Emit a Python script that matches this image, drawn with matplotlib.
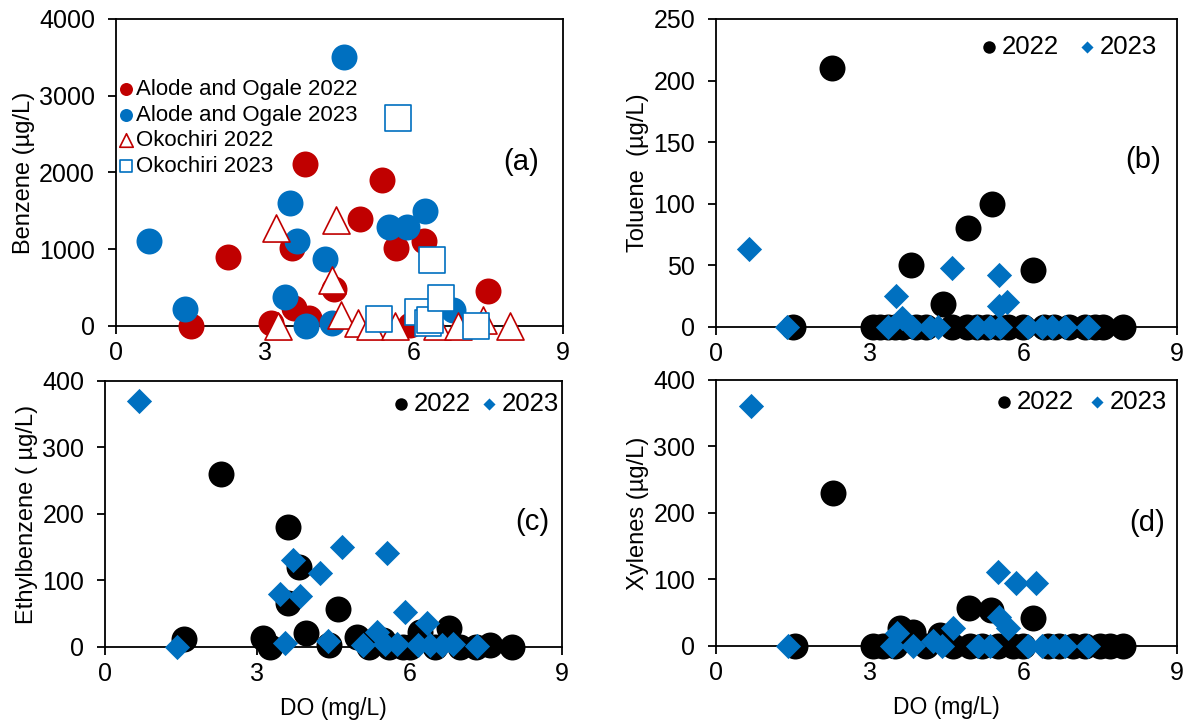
import numpy as np
import matplotlib.pyplot as plt

plt.rcParams['font.family'] = ['Liberation Sans', 'DejaVu Sans']

RED = '#C00000'
BLUE = '#0070C0'

# (a) Benzene
alode22_do = [1.51, 2.25, 3.12, 3.54, 3.58, 3.81, 3.89, 4.39, 4.91, 5.36, 5.64, 5.92, 6.20, 7.49]
alode22_bz = [0, 900, 40, 1010, 230, 2110, 100, 480, 1390, 1900, 1010, 10, 1110, 450]
alode23_do = [0.66, 1.39, 3.40, 3.50, 3.64, 3.83, 4.21, 4.35, 4.59, 5.50, 5.86, 6.22, 6.78]
alode23_bz = [1110, 220, 380, 1600, 1110, 0, 870, 40, 3500, 1290, 1290, 1500, 210]
oko22_do = [3.22, 3.26, 4.35, 4.43, 4.53, 4.87, 5.11, 5.62, 6.46, 6.89, 7.39, 7.93]
oko22_bz = [1280, 0, 600, 1380, 140, 40, 0, 0, 0, 0, 80, 0]
oko23_do = [5.29, 5.68, 6.08, 6.28, 6.32, 6.36, 6.54, 7.25]
oko23_bz = [90, 2710, 180, 40, 80, 860, 360, 0]

# (b) Toluene
tol22_do = [1.51, 2.27, 3.07, 3.20, 3.35, 3.50, 3.65, 3.81, 3.90, 4.10, 4.43, 4.60, 4.92,
            4.90, 5.10, 5.30, 5.39, 5.50, 5.70, 6.00, 6.19, 6.40, 6.60, 6.90, 7.20, 7.40, 7.56, 7.95]
tol22 = [0, 210, 0, 0, 0, 0, 0, 50, 0, 0, 19, 0, 80,
         0, 0, 0, 100, 0, 0, 0, 46, 0, 0, 0, 0, 0, 0, 0]
tol23_do = [0.64, 1.39, 3.36, 3.52, 3.64, 3.83, 4.18, 4.34, 4.61, 5.10, 5.35, 5.53, 5.53,
            5.55, 5.69, 6.09, 6.37, 6.56, 6.82, 7.27]
tol23 = [63, 0, 0, 25, 7, 0, 0, 0, 48, 0, 0, 42, 17,
         0, 20, 0, 0, 0, 0, 0]

# (c) Ethylbenzene
eb22_do = [1.56, 2.28, 3.11, 3.25, 3.60, 3.60, 3.82, 3.96, 4.41, 4.59, 4.96, 5.20, 5.47,
           5.60, 5.87, 6.00, 6.20, 6.50, 6.77, 7.00, 7.30, 7.58, 8.01]
eb22 = [12, 260, 14, 0, 181, 66, 120, 21, 3, 57, 15, 0, 10,
        0, 0, 0, 22, 0, 28, 0, 0, 3, 0]
eb23_do = [0.67, 1.42, 3.44, 3.54, 3.70, 3.84, 4.23, 4.39, 4.67, 5.08, 5.35, 5.51, 5.55,
           5.75, 5.91, 6.16, 6.34, 6.40, 6.63, 6.85, 7.32]
eb23 = [370, 0, 80, 6, 131, 76, 111, 9, 150, 3, 22, 4, 141,
        5, 52, 3, 36, 3, 3, 4, 2]

# (d) Xylenes
xy22_do = [1.54, 2.29, 3.07, 3.26, 3.50, 3.59, 3.85, 4.10, 4.38, 4.63, 4.94, 4.96, 5.20,
           5.37, 5.50, 5.80, 6.00, 6.19, 6.48, 6.70, 6.97, 7.20, 7.50, 7.70, 7.95]
xy22 = [0, 230, 0, 0, 0, 27, 21, 0, 16, 0, 57, 0, 0,
        54, 0, 0, 0, 42, 0, 0, 0, 0, 0, 0, 0]
xy23_do = [0.68, 1.41, 3.44, 3.53, 3.85, 4.24, 4.41, 4.63, 5.12, 5.35, 5.51, 5.53, 5.70,
           5.86, 6.09, 6.25, 6.37, 6.58, 6.82, 7.27]
xy23 = [361, 0, 0, 20, 0, 8, 0, 27, 0, 0, 111, 44, 27,
        95, 0, 95, 0, 0, 0, 0]

TICK_FS = 18
LABEL_FS = 17


def style_axis(ax, ymax, ystep, ylabel):
    ax.set_xlim(0, 9)
    ax.set_ylim(0, ymax)
    ax.set_xticks([0, 3, 6, 9])
    ax.set_yticks(np.arange(0, ymax + 1, ystep))
    ax.tick_params(direction='out', length=6, width=1.3, labelsize=TICK_FS)
    ax.tick_params(axis='x', pad=5)
    ax.tick_params(axis='y', pad=9)
    for sp in ax.spines.values():
        sp.set_linewidth(1.3)
    ax.set_ylabel(ylabel, fontsize=LABEL_FS, labelpad=3)


fig = plt.figure(figsize=(11.88, 7.22), dpi=100)

axA = fig.add_axes([0.0976, 0.5485, 0.3763, 0.4252])
axB = fig.add_axes([0.6027, 0.5471, 0.3880, 0.4266])
axC = fig.add_axes([0.0884, 0.1039, 0.3847, 0.3684])
axD = fig.add_axes([0.6027, 0.1053, 0.3880, 0.3684])

# Benzene panel: two sites, two years
axA.scatter(alode22_do, alode22_bz, s=350, c=RED, linewidths=0, clip_on=False, zorder=3,
            label='Alode and Ogale 2022')
axA.scatter(alode23_do, alode23_bz, s=350, c=BLUE, linewidths=0, clip_on=False, zorder=3,
            label='Alode and Ogale 2023')
axA.scatter(oko22_do, oko22_bz, s=380, marker='^', facecolors='white', edgecolors=RED,
            linewidths=1.2, clip_on=False, zorder=3, label='Okochiri 2022')
axA.scatter(oko23_do, oko23_bz, s=350, marker='s', facecolors='white', edgecolors=BLUE,
            linewidths=1.2, clip_on=False, zorder=3, label='Okochiri 2023')
style_axis(axA, 4000, 1000, 'Benzene (µg/L)')
axA.legend(loc='center left', bbox_to_anchor=(0.008, 0.645), frameon=False, fontsize=16,
           markerscale=0.5, handlelength=0.6, handletextpad=0.15, labelspacing=0.2,
           borderpad=0, borderaxespad=0)
axA.text(0.906, 0.534, '(a)', transform=axA.transAxes, fontsize=21, ha='center', va='center')

# ax, x/y 2022, x/y 2023, ymax, step, label, tag, tag pos, legend pos, legend col gap
panels = [
    (axB, tol22_do, tol22, tol23_do, tol23, 250, 50, 'Toluene  (µg/L)', '(b)',
     (0.926, 0.542), (0.957, 0.909), 0.8),
    (axC, eb22_do, eb22, eb23_do, eb23, 400, 100, 'Ethylbenzene ( µg/L)', '(c)',
     (0.934, 0.47), (0.993, 0.915), 0.4),
    (axD, xy22_do, xy22, xy23_do, xy23, 400, 100, 'Xylenes (µg/L)', '(d)',
     (0.935, 0.462), (0.978, 0.917), 0.6),
]
for ax, x22, y22, x23, y23, ymax, ystep, ylab, tag, tpos, lpos, cgap in panels:
    ax.scatter(x22, y22, s=350, c='black', linewidths=0, clip_on=False, zorder=3, label='2022')
    ax.scatter(x23, y23, s=165, marker='D', c=BLUE, linewidths=0, clip_on=False, zorder=4,
               label='2023')
    style_axis(ax, ymax, ystep, ylab)
    ax.legend(loc='center right', bbox_to_anchor=lpos, ncol=2, frameon=False,
              fontsize=18.5, markerscale=0.48, handlelength=0.6, handletextpad=0.2,
              columnspacing=cgap, borderpad=0, borderaxespad=0)
    ax.text(tpos[0], tpos[1], tag, transform=ax.transAxes, fontsize=21,
            ha='center', va='center')

axC.set_xlabel('DO (mg/L)', fontsize=16.5, labelpad=8)
axD.set_xlabel('DO (mg/L)', fontsize=16.5, labelpad=8)

fig.savefig('out.png', dpi=100)
